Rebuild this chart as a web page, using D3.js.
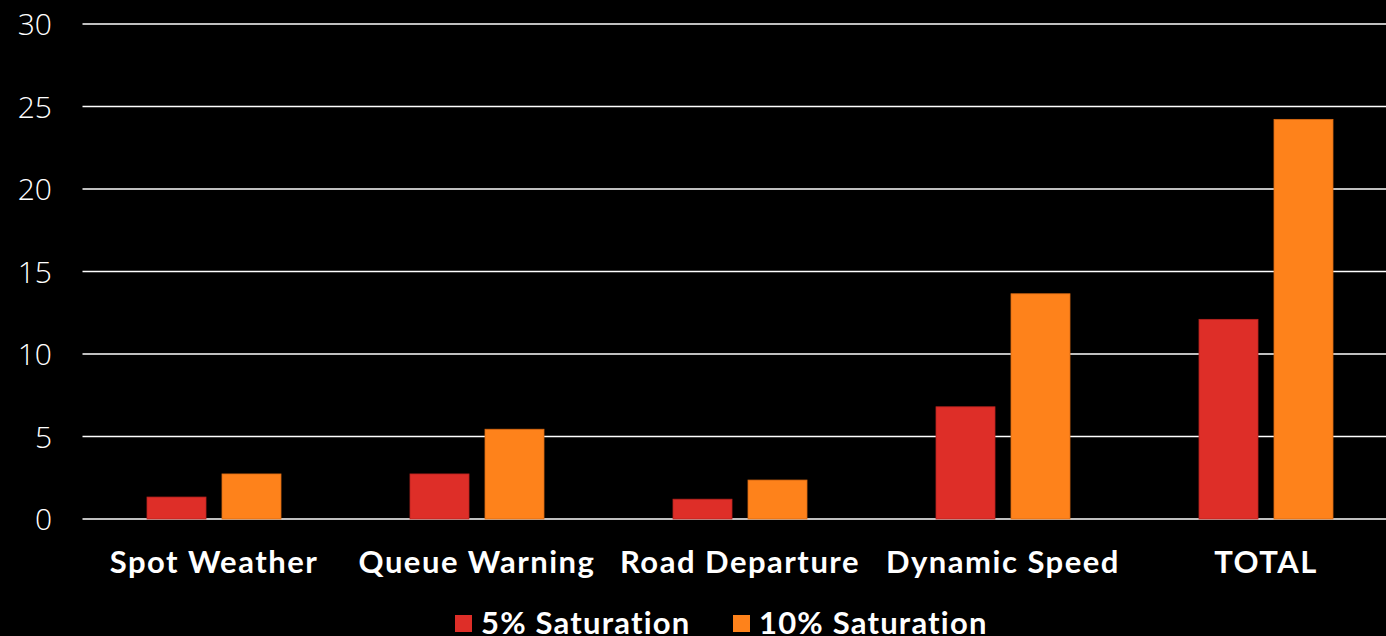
<!DOCTYPE html>
<html><head><meta charset="utf-8">
<script src="https://cdn.jsdelivr.net/npm/d3@7"></script>
<style>html,body{margin:0;padding:0;background:#000;overflow:hidden}</style>
</head><body>
<svg id="c" width="1386" height="636"></svg>
<script>
const categories = ["Spot Weather","Queue Warning","Road Departure","Dynamic Speed","TOTAL"];
const series5 = [1.33, 2.73, 1.2, 6.8, 12.1];
const series10 = [2.73, 5.44, 2.36, 13.65, 24.22];
const seriesNames = ["5% Saturation","10% Saturation"];
const yTicks = [0,5,10,15,20,25,30];
const colors = ["#de2e28","#fe821b"];
const strokes = ["#b8231f","#d96a12"];

(function(){
const svg = d3.select("#c");
const pl = 82.5, pr = 1397.5, pt = 24, pb = 519;
const x = d3.scaleBand().domain(categories).range([pl,pr]).paddingInner(0).paddingOuter(0);
const y = d3.scaleLinear().domain([0,30]).range([pb,pt]);

svg.append("g").selectAll("line").data(yTicks).join("line")
  .attr("x1",pl).attr("x2",1386)
  .attr("y1",d=>y(d)).attr("y2",d=>y(d))
  .attr("stroke","#ffffff").attr("stroke-width",1.6);

svg.append("g").selectAll("text").data(yTicks).join("text")
  .attr("x",52).attr("y",d=>y(d)+11)
  .attr("text-anchor","end")
  .attr("fill","#fff")
  .attr("font-family","'Open Sans', Lato, sans-serif")
  .attr("font-weight",300)
  .attr("font-size",30)
  .text(d=>d);

const data = [series5, series10];
const bw = 59, gap = 16;
data.forEach((vals,si)=>{
  svg.append("g").selectAll("rect").data(vals).join("rect")
    .attr("x",(d,i)=>x(categories[i]) + x.bandwidth()/2 + (si===0 ? -gap/2-bw : gap/2))
    .attr("y",d=>y(d))
    .attr("width",bw)
    .attr("height",d=>y(0)-y(d))
    .attr("fill",colors[si])
    .attr("stroke",strokes[si]).attr("stroke-width",0.8);
});

svg.append("g").selectAll("text").data(categories).join("text")
  .attr("x",d=>x(d)+x.bandwidth()/2).attr("y",573)
  .attr("text-anchor","middle")
  .attr("fill","#fff")
  .attr("font-family","Lato, 'Open Sans', sans-serif")
  .attr("font-weight",700)
  .attr("font-size",31)
  .attr("letter-spacing",1.5)
  .text(d=>d);

const legX = [455, 733];
seriesNames.forEach((n,i)=>{
  svg.append("rect").attr("x",legX[i]).attr("y",615).attr("width",17).attr("height",17).attr("fill",colors[i]);
  svg.append("text").attr("x",legX[i]+26).attr("y",634)
    .attr("fill","#fff")
    .attr("font-family","Lato, 'Open Sans', sans-serif")
    .attr("font-weight",700).attr("font-size",31)
    .attr("letter-spacing",1.2)
    .text(n);
});
})();
</script>
</body></html>
